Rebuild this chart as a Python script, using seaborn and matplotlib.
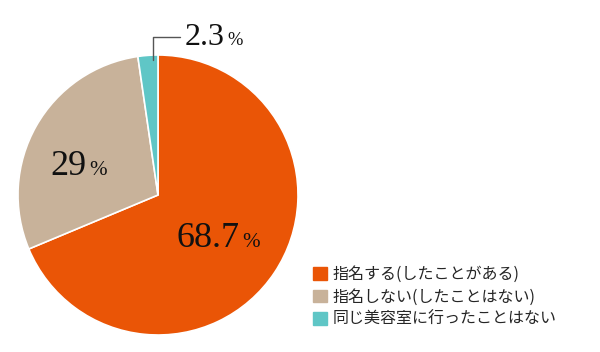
import matplotlib
matplotlib.use("Agg")
import matplotlib.pyplot as plt
import matplotlib.patches as mpatches
import seaborn as sns

labels = ["指名する(したことがある)", "指名しない(したことはない)", "同じ美容室に行ったことはない"]
values = [68.7, 29, 2.3]
value_text = ["68.7", "29", "2.3"]
colors = ["#EA5506", "#C8B29A", "#5FC6C6"]

sns.set_theme(style="white")
plt.rcParams['font.family'] = ['Noto Sans CJK JP', 'DejaVu Sans']

fig = plt.figure(figsize=(6, 3.52), dpi=100)
ax = fig.add_axes([0, 0, 1, 1])
ax.set_xlim(0, 600)
ax.set_ylim(0, 352)
ax.set_aspect("equal")
ax.axis("off")

H = 352
ax.pie(values, colors=colors, startangle=90, counterclock=False,
       center=(158, H - 195), radius=140,
       wedgeprops=dict(edgecolor="white", linewidth=1.2))
ax.set_xlim(0, 600)
ax.set_ylim(0, 352)

serif = ["Liberation Serif", "DejaVu Serif"]
# (number right edge x, baseline y, font size)
spots = [(240, 247, 26), (87, 175, 26), (225, 45, 23)]
for txt, (x, y, fs) in zip(value_text, spots):
    ax.text(x, H - y, txt, ha="right", va="baseline", fontsize=fs,
            family=serif, color="#111111")
    ax.text(x + 2, H - y, "%", ha="left", va="baseline", fontsize=fs * 0.58,
            family=serif, color="#111111")

# leader line for the small slice
ax.plot([153, 153, 180], [H - 60, H - 37, H - 37], color="#555555", lw=1)

handles = [mpatches.Patch(color=c, label=l) for c, l in zip(colors, labels)]
fig.legend(handles=handles, loc="upper left", bbox_to_anchor=(313 / 600, 1 - 266 / 352),
           frameon=False, fontsize=11.5, handlelength=0.85, handleheight=0.85,
           handletextpad=0.35, labelspacing=0.35, borderpad=0, borderaxespad=0)

fig.savefig("out.png", dpi=100)
